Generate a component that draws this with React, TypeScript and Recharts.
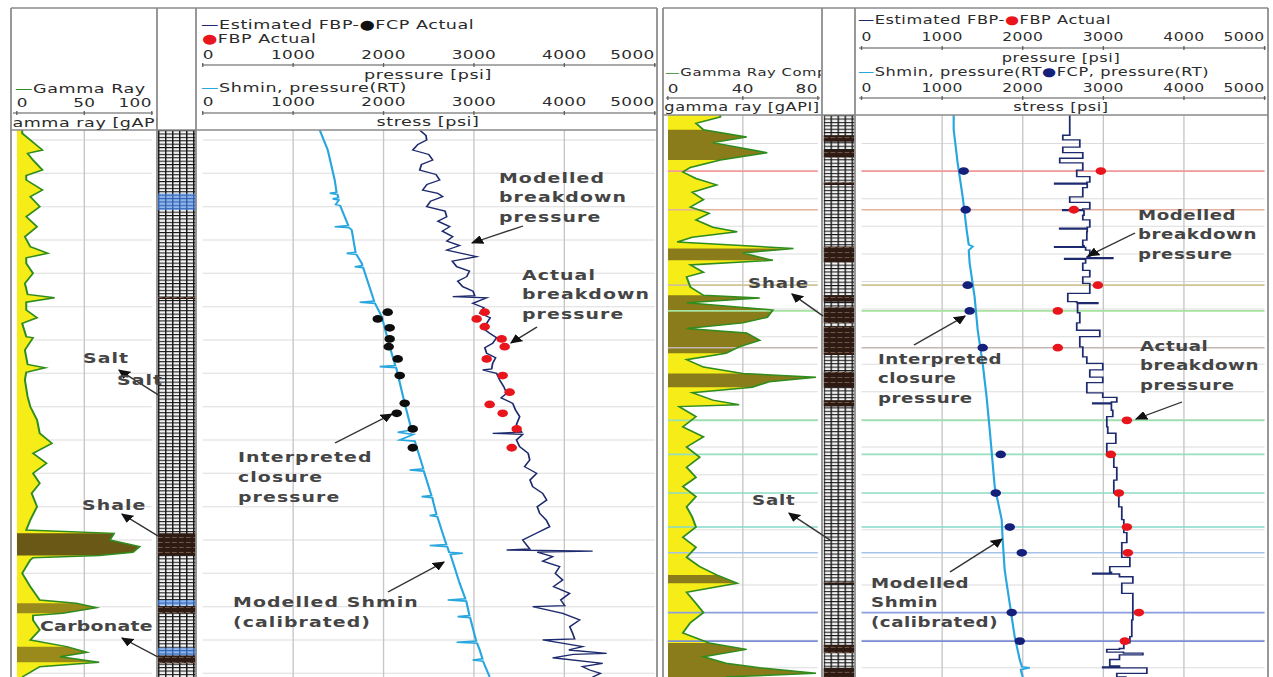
import React from "react";
import {
  Area,
  CartesianGrid,
  ComposedChart,
  Line,
  ReferenceArea,
  ReferenceLine,
  Scatter,
  XAxis,
  YAxis,
} from "recharts";

// the log sheet is drawn narrow and stretched sideways as a whole
const SX = 1.35;
const X = (x: number) => x / SX;

const FONT = "DejaVu Sans";
const NAVY = "#1d2a6e";
const CYAN = "#27a6df";
const GREEN = "#2f8c1e";
const SAND = "#f6ec17";
const RED = "#e8161c";
const FCP_NAVY = "#15207a";
const GRID = "#dcdcdc";
const GRID_V = "#c6c6c6";
const FRAME = "#8a8a8a";
const INK = "#2b2b2b";

type Pt = [number, number];
type Bed = [number, number, string];

const PRESSURE_TICKS = [0, 1000, 2000, 3000, 4000, 5000];
const PRESSURE_GRID = [1000, 2000, 3000, 4000];
const GR_TICKS_A = [0, 50, 100];
const GR_TICKS_B = [0, 40, 80];

// depth windows (m) of the two well sections
const DEPTH_A: Pt = [2117, 2609.3];
const DEPTH_B: Pt = [3125, 3736];
const GRID_A = Array.from({ length: 49 }, (_, i) => 2126 + i * 10);
const GRID_B = Array.from({ length: 60 }, (_, i) => 3136 + i * 10);

// ---- well A ----
const gammaA: Pt[] = [
  [2117, 4], [2120, 4], [2126, 10], [2135, 19], [2138, 8], [2144, 12], [2153, 19], [2158, 7],
  [2162, 7], [2171, 19], [2177, 10], [2186, 17], [2195, 7], [2204, 15], [2213, 6], [2222, 10],
  [2228, 23], [2232, 7], [2237, 7], [2246, 12], [2255, 6], [2265, 8], [2268, 28], [2272, 7],
  [2279, 7], [2286, 15], [2291, 4], [2303, 7], [2304, 12], [2315, 6], [2328, 8], [2331, 21],
  [2335, 7], [2342, 6], [2357, 8], [2366, 10], [2378, 15], [2390, 17], [2399, 26], [2408, 12],
  [2417, 22], [2426, 12], [2435, 17], [2444, 11], [2456, 15], [2468, 10], [2477, 7], [2480, 72],
  [2486, 69], [2492, 91], [2497, 86], [2500, 61], [2502, 12], [2504, 10], [2516, 4], [2528, 10],
  [2540, 17], [2543, 44], [2547, 59], [2552, 34], [2554, 12], [2558, 12], [2567, 17], [2576, 10],
  [2582, 37], [2587, 52], [2591, 32], [2596, 61], [2600, 17], [2609.3, 4],
];
const shaleGammaA: Pt[] = [[2480, 2500], [2543, 2552], [2582, 2596]];
const shaleFillA = ["#6a5816", "#9a8a1c", "#9a8a1c"];

const shminA: Pt[] = [
  [2117, 1294], [2135, 1383], [2162, 1460], [2173, 1480], [2174, 1405], [2175, 1490], [2178, 1500],
  [2179, 1438], [2180, 1505], [2184, 1471], [2185, 1520], [2203, 1610], [2204, 1460], [2205, 1620],
  [2207, 1648], [2227, 1690], [2228, 1593], [2229, 1700], [2237, 1759], [2239, 1765], [2240, 1681],
  [2241, 1775], [2267, 1880], [2271, 1895], [2272, 1736], [2273, 1905], [2285, 1980], [2312, 2068],
  [2329, 2130], [2330, 1958], [2331, 2140], [2333, 2146], [2363, 2234], [2387, 2310], [2389, 2157],
  [2391, 2330], [2396, 2179], [2397, 2345], [2420, 2433], [2422, 2440], [2423, 2289], [2424, 2445],
  [2446, 2530], [2447, 2422], [2448, 2540], [2450, 2544], [2463, 2585], [2464, 2511], [2465, 2595],
  [2480, 2654], [2490, 2695], [2491, 2511], [2492, 2705], [2497, 2725], [2498, 2876], [2499, 2740],
  [2525, 2842], [2539, 2905], [2540, 2710], [2541, 2915], [2554, 2950], [2555, 2820], [2556, 2958],
  [2577, 3025], [2578, 2809], [2579, 3035], [2585, 3064], [2593, 3095], [2594, 2986], [2595, 3100],
  [2609.3, 3174],
];

const fbpModelA: Pt[] = [
  [2117, 2400], [2122, 2470], [2126, 2477], [2130, 2380], [2135, 2323], [2139, 2500], [2144, 2544],
  [2148, 2420], [2153, 2400], [2157, 2580], [2162, 2621], [2166, 2480], [2171, 2433], [2174, 2600],
  [2177, 2654], [2181, 2520], [2186, 2477], [2190, 2680], [2195, 2699], [2199, 2600], [2204, 2732],
  [2208, 2650], [2213, 2765], [2217, 2700], [2221, 2842], [2225, 2699], [2231, 3030], [2235, 2760],
  [2240, 2809], [2244, 2950], [2249, 2920], [2253, 2820], [2258, 2876], [2262, 2990], [2266, 3008],
  [2267, 2765], [2268, 3141], [2273, 2986], [2277, 3110], [2282, 3064], [2286, 3180], [2291, 3141],
  [2295, 3090], [2300, 3174], [2304, 3250], [2309, 3207], [2313, 3120], [2318, 3141], [2322, 3240],
  [2327, 3207], [2332, 3196], [2333, 3097], [2336, 3250], [2342, 3285], [2348, 3330], [2354, 3362],
  [2358, 3300], [2363, 3429], [2369, 3460], [2375, 3506], [2382, 3470], [2389, 3528], [2390, 3207],
  [2391, 3539], [2396, 3470], [2402, 3506], [2408, 3600], [2414, 3617], [2420, 3560], [2426, 3694],
  [2432, 3620], [2438, 3650], [2444, 3760], [2450, 3805], [2456, 3700], [2462, 3727], [2468, 3800],
  [2474, 3838], [2480, 3690], [2486, 3539], [2494, 3617], [2495, 3362], [2496, 4313], [2497, 3700],
  [2501, 3871], [2505, 3760], [2510, 3948], [2516, 3900], [2522, 3982], [2528, 3880], [2534, 4059],
  [2540, 3960], [2545, 4004], [2546, 3650], [2552, 3982], [2558, 4170], [2564, 4060], [2570, 4092],
  [2575, 4114], [2576, 3760], [2582, 4203], [2585, 4050], [2588, 4468], [2589, 4100], [2592, 3871],
  [2597, 4424], [2600, 4200], [2603, 4280], [2606, 4400], [2609.3, 4313],
];

const fcpA: Pt[] = [
  [2281, 2046], [2287, 1936], [2295, 2068], [2305, 2068], [2312, 2057], [2323, 2157],
  [2338, 2179], [2363, 2234], [2372, 2146], [2386, 2323], [2403, 2323],
];
const fbpA: Pt[] = [
  [2281, 3119], [2287, 3030], [2294, 3119], [2305, 3307], [2312, 3340], [2323, 3141],
  [2338, 3318], [2353, 3395], [2364, 3174], [2372, 3318], [2386, 3473], [2403, 3418],
];

const bedsA: Bed[] = [
  [2174, 2189, "carbonate"], [2267, 2269, "shale"], [2480, 2500, "shale"],
  [2540, 2545, "carbonate"], [2546, 2552, "shale"], [2583, 2590, "carbonate"], [2590, 2597, "shale"],
];

// ---- well B ----
const gammaB: Pt[] = [
  [3125, 28], [3127, 28], [3134, 15], [3141, 19], [3149, 42], [3155, 24], [3166, 53], [3174, 28],
  [3182, 12], [3187, 8], [3194, 15], [3201, 26], [3209, 13], [3217, 19], [3225, 12], [3232, 22],
  [3239, 15], [3247, 24], [3252, 37], [3258, 13], [3263, 5], [3270, 67], [3275, 40], [3283, 56],
  [3288, 12], [3296, 19], [3301, 10], [3312, 12], [3321, 19], [3324, 49], [3329, 10], [3337, 56],
  [3345, 53], [3351, 40], [3357, 10], [3362, 42], [3370, 49], [3377, 38], [3384, 31], [3391, 10],
  [3399, 19], [3406, 40], [3410, 79], [3415, 54], [3421, 45], [3427, 13], [3435, 24], [3440, 38],
  [3442, 6], [3453, 15], [3464, 8], [3475, 19], [3486, 10], [3497, 17], [3508, 10], [3519, 15],
  [3529, 8], [3540, 15], [3551, 10], [3562, 13], [3573, 15], [3584, 8], [3595, 15], [3606, 10],
  [3616, 17], [3625, 26], [3634, 37], [3644, 10], [3656, 15], [3666, 19], [3677, 12], [3688, 8],
  [3699, 22], [3706, 42], [3714, 19], [3721, 31], [3726, 49], [3732, 79], [3736, 31],
];
const shaleGammaB: Pt[] = [
  [3141, 3174], [3270, 3283], [3321, 3384], [3406, 3421], [3625, 3634], [3699, 3736],
];
const shaleFillB = ["#8a7c1a", "#8a7c1a", "#8a7c1a", "#8a7c1a", "#8a7c1a", "#8a7c1a"];

const shminB: Pt[] = [
  [3125, 1143], [3141, 1143], [3177, 1192], [3214, 1255], [3250, 1304], [3266, 1330], [3268, 1380],
  [3272, 1330], [3286, 1341], [3323, 1403], [3359, 1441], [3395, 1503], [3432, 1552], [3467, 1590],
  [3492, 1615], [3529, 1652], [3565, 1739], [3587, 1751], [3620, 1776], [3656, 1838], [3692, 1900],
  [3717, 1962], [3725, 1990], [3726, 2087], [3728, 1975], [3736, 2000],
];

const fbpModelB: Pt[] = [
  [3125, 2583], [3141, 2583], [3147, 2497], [3152, 2708], [3160, 2497], [3166, 2745], [3172, 2459],
  [3177, 2745], [3185, 2670], [3192, 2832], [3198, 2795], [3199, 2397], [3200, 2800], [3204, 2745],
  [3214, 2583], [3220, 2832], [3227, 2745], [3228, 2497], [3229, 2760], [3234, 2745], [3239, 2832],
  [3247, 2800], [3248, 2459], [3249, 2800], [3252, 2795], [3261, 2745], [3267, 2760], [3268, 2397],
  [3269, 2780], [3272, 2832], [3279, 2800], [3280, 3117], [3281, 2521], [3282, 2780], [3286, 2745],
  [3294, 2832], [3301, 2745], [3308, 2832], [3319, 2559], [3328, 2670], [3329, 2931], [3330, 2680],
  [3340, 2708], [3351, 2670], [3359, 2956], [3366, 2708], [3377, 2745], [3388, 2795], [3395, 2993],
  [3402, 2832], [3410, 2993], [3416, 2795], [3427, 2993], [3432, 3167], [3437, 3100], [3438, 2869],
  [3439, 3100], [3446, 3117], [3453, 3043], [3464, 3055], [3471, 3155], [3482, 3043], [3492, 3130],
  [3508, 3167], [3522, 3130], [3536, 3192], [3551, 3229], [3565, 3254], [3579, 3291], [3590, 3229],
  [3606, 3329], [3616, 3080], [3622, 3100], [3623, 2869], [3624, 3200], [3627, 3366], [3634, 3229],
  [3645, 3366], [3660, 3366], [3674, 3353], [3692, 3329], [3699, 3254], [3705, 3200], [3706, 3043],
  [3709, 3250], [3710, 3490], [3712, 3200], [3717, 3080], [3724, 3200], [3725, 2993], [3726, 3540],
  [3732, 3167], [3736, 3291],
];

const fcpB: Pt[] = [
  [3186, 1267], [3228, 1292], [3310, 1317], [3338, 1342], [3378, 1503], [3494, 1727],
  [3536, 1665], [3573, 1839], [3601, 1988], [3666, 1863], [3697, 1963],
];
const fbpB: Pt[] = [
  [3186, 2969], [3228, 2634], [3310, 2932], [3338, 2435], [3378, 2435], [3457, 3292],
  [3494, 3093], [3536, 3193], [3573, 3292], [3601, 3304], [3666, 3441], [3697, 3267],
];
// one coloured marker line per breakdown test
const testColorsB = [
  "#f49a9a", "#e6b09f", "#cdc594", "#a6e39f", "#c4b6b2", "#9ce2ae",
  "#96e0bb", "#8edbc4", "#86d9cb", "#a6c2ea", "#8a9fdd", "#7b8fd5",
];

const bedsB: Bed[] = [
  [3147, 3154, "shale"], [3163, 3171, "shale"], [3198, 3201, "shale"], [3268, 3285, "shale"],
  [3321, 3328, "shale"], [3334, 3351, "shale"], [3355, 3386, "shale"], [3404, 3421, "shale"],
  [3435, 3442, "shale"], [3633, 3635, "shale"], [3701, 3710, "shale"], [3726, 3736, "shale"],
];

const rows = (pts: Pt[], key: string) => pts.map(([d, v]) => ({ d, [key]: v }));
const slice = (pts: Pt[], [a, b]: Pt) => pts.filter(([d]) => d >= a && d <= b);

function HeaderTick(props: any) {
  const { x, payload, labelY, lineY, size, lo, hi } = props;
  const v: number = payload.value;
  const anchor = v === lo ? "start" : v === hi ? "end" : "middle";
  return (
    <g>
      <line x1={x} x2={x} y1={lineY - 2} y2={lineY + 2} stroke="#666" strokeWidth={1} />
      <text x={x} y={labelY} textAnchor={anchor} dominantBaseline="central" fontSize={size}
        fontFamily={FONT} fill={INK} letterSpacing={0.3}>
        {v}
      </text>
    </g>
  );
}

type TrackBox = { left: number; right: number; top: number; plotTop: number; x0: number; x1: number };

function GammaTrack({ box, domain, ticks, tickY, lineY, depth, grid, gr, shale, shaleFill, markers }: {
  box: TrackBox; domain: Pt; ticks: number[]; tickY: number; lineY: number; depth: Pt;
  grid: number[]; gr: Pt[]; shale: Pt[]; shaleFill: string[]; markers?: { d: number; color: string }[];
}) {
  const { left, right, top, plotTop, x0, x1 } = box;
  const vGrid = ticks.slice(1, -1);
  return (
    <div style={{ position: "absolute", left: X(left), top }}>
      <ComposedChart width={X(right - left)} height={677 - top} layout="vertical"
        margin={{ top: plotTop - top - 1, left: X(x0 - left), right: X(right - x1), bottom: 0 }}>
        <XAxis type="number" orientation="top" domain={domain} ticks={ticks} interval={0} height={1}
          axisLine={false} tickLine={false} allowDataOverflow
          tick={(p: any) => (
            <HeaderTick {...p} labelY={tickY} lineY={lineY} size={12.5} lo={domain[0]} hi={domain[1]} />
          )} />
        <YAxis type="number" dataKey="d" domain={depth} ticks={grid} hide allowDataOverflow />
        <CartesianGrid stroke={GRID} vertical={false} horizontalValues={grid} />
        <CartesianGrid stroke={GRID_V} horizontal={false} verticalValues={vGrid} />
        {markers?.map((m) => (
          <ReferenceLine key={m.d} y={m.d} stroke={m.color} strokeWidth={1.6} />
        ))}
        <Area data={rows(gr, "gr")} dataKey="gr" type="linear" baseValue={0} fill={SAND}
          fillOpacity={1} stroke="none" isAnimationActive={false} />
        {shale.map((band, i) => (
          <Area key={band[0]} data={rows(slice(gr, band), "gr")} dataKey="gr" type="linear"
            baseValue={0} fill={shaleFill[i]} fillOpacity={1} stroke="none" isAnimationActive={false} />
        ))}
        <Line data={rows(gr, "gr")} dataKey="gr" type="linear" stroke={GREEN} strokeWidth={1.5}
          dot={false} activeDot={false} isAnimationActive={false} />
      </ComposedChart>
    </div>
  );
}

function LithoTrack({ left, right, top, depth, beds }: {
  left: number; right: number; top: number; depth: Pt; beds: Bed[];
}) {
  // an empty series gives the chart a data set so the bed areas are laid out
  const frame = [{ d: depth[0], v: 0 }, { d: depth[1], v: 0 }];
  return (
    <div style={{ position: "absolute", left: X(left), top }}>
      <ComposedChart width={X(right - left)} height={677 - top} layout="vertical" data={frame}
        margin={{ top: 0, left: 0, right: 0, bottom: 0 }}>
        <XAxis type="number" domain={[0, 1]} hide allowDataOverflow />
        <YAxis type="number" dataKey="d" domain={depth} hide allowDataOverflow />
        <Line dataKey="v" stroke="none" dot={false} activeDot={false} isAnimationActive={false} />
        <ReferenceArea y1={depth[0]} y2={depth[1]} fill="url(#salt)" fillOpacity={1} ifOverflow="visible" />
        {beds.map(([a, b, rock]) => (
          <ReferenceArea key={a} y1={a} y2={b} fill={`url(#${rock})`} fillOpacity={1} ifOverflow="visible" />
        ))}
      </ComposedChart>
    </div>
  );
}

function PressureTrack({ box, pY, pLine, sY, sLine, size, depth, grid, shmin, fbpModel, step,
  fcp, fcpColor, fbp, markers }: {
  box: TrackBox; pY: number; pLine: number; sY: number; sLine: number; size: number; depth: Pt;
  grid: number[]; shmin: Pt[]; fbpModel: Pt[]; step: boolean; fcp: Pt[]; fcpColor: string;
  fbp: Pt[]; markers?: { d: number; color: string }[];
}) {
  const { left, right, top, plotTop, x0, x1 } = box;
  const dot = (color: string) => (p: any) => (
    <circle cx={p.cx} cy={p.cy} r={3.9} fill={color} />
  );
  return (
    <div style={{ position: "absolute", left: X(left), top }}>
      <ComposedChart width={X(right - left)} height={677 - top} layout="vertical"
        margin={{ top: plotTop - top - 2, left: X(x0 - left), right: X(right - x1), bottom: 0 }}>
        <XAxis type="number" orientation="top" domain={[0, 5000]} ticks={PRESSURE_TICKS} interval={0}
          height={1} axisLine={false} tickLine={false} allowDataOverflow
          tick={(p: any) => <HeaderTick {...p} labelY={sY} lineY={sLine} size={size} lo={0} hi={5000} />} />
        <XAxis xAxisId="p" type="number" orientation="top" domain={[0, 5000]} ticks={PRESSURE_TICKS}
          interval={0} height={1} axisLine={false} tickLine={false} allowDataOverflow
          tick={(p: any) => <HeaderTick {...p} labelY={pY} lineY={pLine} size={size} lo={0} hi={5000} />} />
        <YAxis type="number" dataKey="d" domain={depth} ticks={grid} hide allowDataOverflow />
        <CartesianGrid stroke={GRID} vertical={false} horizontalValues={grid} />
        <CartesianGrid stroke={GRID_V} horizontal={false} verticalValues={PRESSURE_GRID} />
        {markers?.map((m) => (
          <ReferenceLine key={m.d} y={m.d} stroke={m.color} strokeWidth={1.6} />
        ))}
        <Line data={rows(shmin, "p")} dataKey="p" type="linear" stroke={CYAN} strokeWidth={1.6}
          dot={false} activeDot={false} isAnimationActive={false} />
        <Line data={rows(fbpModel, "p")} dataKey="p" xAxisId="p" type={step ? "stepBefore" : "linear"}
          stroke={NAVY} strokeWidth={1.3} dot={false} activeDot={false} isAnimationActive={false} />
        <Scatter data={rows(fcp, "p")} dataKey="p" shape={dot(fcpColor)} isAnimationActive={false} />
        <Scatter data={rows(fbp, "p")} dataKey="p" xAxisId="p" shape={dot(RED)} isAnimationActive={false} />
      </ComposedChart>
    </div>
  );
}

function T({ x, y, size, children, anchor = "start", bold = false, ls = 0.4, fill = INK, clip }: any) {
  return (
    <text x={X(x)} y={y} fontSize={size} textAnchor={anchor} dominantBaseline="central"
      fontFamily={FONT} fontWeight={bold ? "bold" : "normal"} letterSpacing={ls} fill={fill}
      clipPath={clip}>
      {children}
    </text>
  );
}

const notes: { x: number; y: number; dy: number; size: number; ls: number; lines: string[] }[] = [
  { x: 83, y: 358, dy: 20, size: 14, ls: 0.8, lines: ["Salt"] },
  { x: 117, y: 380, dy: 20, size: 14, ls: 0.8, lines: ["Salt"] },
  { x: 82, y: 505, dy: 20, size: 14, ls: 0.8, lines: ["Shale"] },
  { x: 40, y: 626, dy: 20, size: 14, ls: 0.2, lines: ["Carbonate"] },
  { x: 238, y: 457, dy: 20, size: 14, ls: 0.8, lines: ["Interpreted", "closure", "pressure"] },
  { x: 233, y: 602, dy: 20, size: 14, ls: 0.8, lines: ["Modelled Shmin", "(calibrated)"] },
  { x: 499, y: 178, dy: 19.5, size: 14, ls: 0.8, lines: ["Modelled", "breakdown", "pressure"] },
  { x: 522, y: 275, dy: 19.5, size: 14, ls: 0.8, lines: ["Actual", "breakdown", "pressure"] },
  { x: 1138, y: 215, dy: 19.5, size: 13.5, ls: 0.4, lines: ["Modelled", "breakdown", "pressure"] },
  { x: 1140, y: 346, dy: 19.5, size: 13.5, ls: 0.4, lines: ["Actual", "breakdown", "pressure"] },
  { x: 878, y: 359, dy: 19.5, size: 13.5, ls: 0.4, lines: ["Interpreted", "closure", "pressure"] },
  { x: 871, y: 583, dy: 19.5, size: 13.5, ls: 0.4, lines: ["Modelled", "Shmin", "(calibrated)"] },
  { x: 748, y: 283, dy: 19.5, size: 13.5, ls: 0.6, lines: ["Shale"] },
  { x: 752, y: 500, dy: 19.5, size: 13.5, ls: 0.6, lines: ["Salt"] },
];
const arrows: number[][] = [
  [160, 396, 119, 370], [158, 536, 122, 514], [158, 657, 122, 638], [335, 443, 392, 414],
  [388, 592, 444, 562], [523, 226, 472, 243], [537, 327, 511, 343], [1135, 233, 1088, 256],
  [1182, 402, 1136, 419], [914, 345, 965, 316], [950, 572, 1002, 539], [823, 316, 792, 294],
  [830, 540, 789, 513],
];

function Sheet() {
  const vline = (x: number, y1: number) => (
    <line key={`v${x}`} x1={X(x)} x2={X(x)} y1={y1} y2={680} stroke={FRAME} strokeWidth={1.3} />
  );
  const hline = (x1: number, x2: number, y: number, c = FRAME, w = 1.3) => (
    <line key={`h${x1}-${y}`} x1={X(x1)} x2={X(x2)} y1={y} y2={y} stroke={c} strokeWidth={w} />
  );
  return (
    <svg width={X(1273)} height={677} style={{ position: "absolute", left: 0, top: 0 }}>
      <defs>
        <pattern id="salt" width={5.2} height={3.4} patternUnits="userSpaceOnUse">
          <rect width={5.2} height={3.4} fill="#f4f4f4" />
          <path d="M0.5 0V3.4M0 0.5H5.2" stroke="#161616" strokeWidth={1.1} />
        </pattern>
        <pattern id="shale" width={5.2} height={5} patternUnits="userSpaceOnUse">
          <rect width={5.2} height={5} fill="#2d1b13" />
          <path d="M0 2.5H3.6" stroke="#8a6a58" strokeWidth={0.6} />
        </pattern>
        <pattern id="carbonate" width={5.2} height={3.4} patternUnits="userSpaceOnUse">
          <rect width={5.2} height={3.4} fill="#8fb4e6" />
          <path d="M0.5 0V3.4M0 0.5H5.2" stroke="#2e62b4" strokeWidth={1} />
        </pattern>
        <marker id="arrow" viewBox="0 0 10 10" refX={9} refY={5} markerWidth={7} markerHeight={7}
          orient="auto">
          <path d="M0,0 L10,5 L0,10 z" fill="#111" />
        </marker>
        <clipPath id="clipGA"><rect x={X(12)} y={0} width={X(145)} height={140} /></clipPath>
        <clipPath id="clipGB"><rect x={X(664)} y={0} width={X(157)} height={140} /></clipPath>
      </defs>
      {/* frames */}
      {hline(11, 657, 8)}
      {hline(11, 657, 130)}
      {[11, 157, 196, 657].map((x) => vline(x, 8))}
      {hline(663, 1268, 8)}
      {hline(663, 1268, 115)}
      {[663, 822, 855, 1268].map((x) => vline(x, 8))}

      {/* header scale lines */}
      {hline(202, 656, 65, "#555", 1)}
      {hline(202, 656, 113, "#555", 1)}
      {hline(13, 153, 113, "#555", 1)}
      {hline(859, 1266, 48, "#555", 1)}
      {hline(859, 1266, 98, "#555", 1)}
      {hline(666, 820, 98, "#555", 1)}

      {/* well A headers */}
      <T x={15} y={89} size={13}>
        <tspan fill={GREEN}>—</tspan>Gamma Ray
      </T>
      <T x={84.5} y={123} size={13} anchor="middle" clip="url(#clipGA)">gamma ray [gAPI]</T>
      <T x={201} y={25} size={13}>
        <tspan fill={NAVY}>—</tspan>Estimated FBP-<tspan fill="#111">●</tspan>FCP Actual
      </T>
      <T x={202} y={39} size={13}>
        <tspan fill={RED}>●</tspan>FBP Actual
      </T>
      <T x={428} y={75} size={13} anchor="middle">pressure [psi]</T>
      <T x={201} y={88} size={13}>
        <tspan fill={CYAN}>—</tspan>Shmin, pressure(RT)
      </T>
      <T x={428} y={122} size={13} anchor="middle">stress [psi]</T>

      {/* well B headers */}
      <T x={665} y={72} size={11} clip="url(#clipGB)">
        <tspan fill={GREEN}>—</tspan>Gamma Ray Comp
      </T>
      <T x={742} y={107} size={12} anchor="middle">gamma ray [gAPI]</T>
      <T x={858} y={20} size={12}>
        <tspan fill={NAVY}>—</tspan>Estimated FBP-<tspan fill={RED}>●</tspan>FBP Actual
      </T>
      <T x={1061} y={58} size={12} anchor="middle">pressure [psi]</T>
      <T x={858} y={72} size={12}>
        <tspan fill={CYAN}>—</tspan>Shmin, pressure(RT<tspan fill={FCP_NAVY}>●</tspan>FCP, pressure(RT)
      </T>
      <T x={1061} y={107} size={12} anchor="middle">stress [psi]</T>

      {/* callouts */}
      {arrows.map(([a, b, c, d], i) => (
        <line key={`a${i}`} x1={X(a)} y1={b} x2={X(c)} y2={d} stroke="#333" strokeWidth={1.3}
          markerEnd="url(#arrow)" />
      ))}
      {notes.map((n, i) =>
        n.lines.map((s, j) => (
          <T key={`n${i}-${j}`} x={n.x} y={n.y + j * n.dy} size={n.size} bold ls={n.ls} fill="#454545">
            {s}
          </T>
        )),
      )}
    </svg>
  );
}

export default function App() {
  const markersB = fbpB.map(([d], i) => ({ d, color: testColorsB[i] }));
  return (
    <div style={{ position: "absolute", left: 0, top: 0, width: 1273, height: 677, overflow: "hidden",
      background: "#fff" }}>
      <div style={{ position: "absolute", left: 0, top: 0, width: X(1273), height: 677,
        transform: `scaleX(${SX})`, transformOrigin: "0 0" }}>
        <GammaTrack box={{ left: 11, right: 157, top: 8, plotTop: 130, x0: 17, x1: 152 }}
          domain={[0, 100]} ticks={GR_TICKS_A} tickY={94} lineY={105} depth={DEPTH_A} grid={GRID_A}
          gr={gammaA} shale={shaleGammaA} shaleFill={shaleFillA} />
        <LithoTrack left={158} right={196} top={130} depth={DEPTH_A} beds={bedsA} />
        <PressureTrack box={{ left: 196, right: 657, top: 8, plotTop: 130, x0: 203, x1: 655 }}
          pY={46} pLine={57} sY={93} sLine={105} size={12.5} depth={DEPTH_A} grid={GRID_A}
          shmin={shminA} fbpModel={fbpModelA} step={false} fcp={fcpA} fcpColor="#0d0d0d" fbp={fbpA} />
        <GammaTrack box={{ left: 663, right: 822, top: 8, plotTop: 115, x0: 668, x1: 818 }}
          domain={[0, 80]} ticks={GR_TICKS_B} tickY={80} lineY={90} depth={DEPTH_B} grid={GRID_B}
          gr={gammaB} shale={shaleGammaB} shaleFill={shaleFillB} markers={markersB} />
        <LithoTrack left={823} right={854} top={115} depth={DEPTH_B} beds={bedsB} />
        <PressureTrack box={{ left: 855, right: 1268, top: 8, plotTop: 115, x0: 862, x1: 1265 }}
          pY={29} pLine={40} sY={80} sLine={90} size={11.5} depth={DEPTH_B} grid={GRID_B}
          shmin={shminB} fbpModel={fbpModelB} step={true} fcp={fcpB} fcpColor={FCP_NAVY} fbp={fbpB}
          markers={markersB} />
        <Sheet />
      </div>
    </div>
  );
}
